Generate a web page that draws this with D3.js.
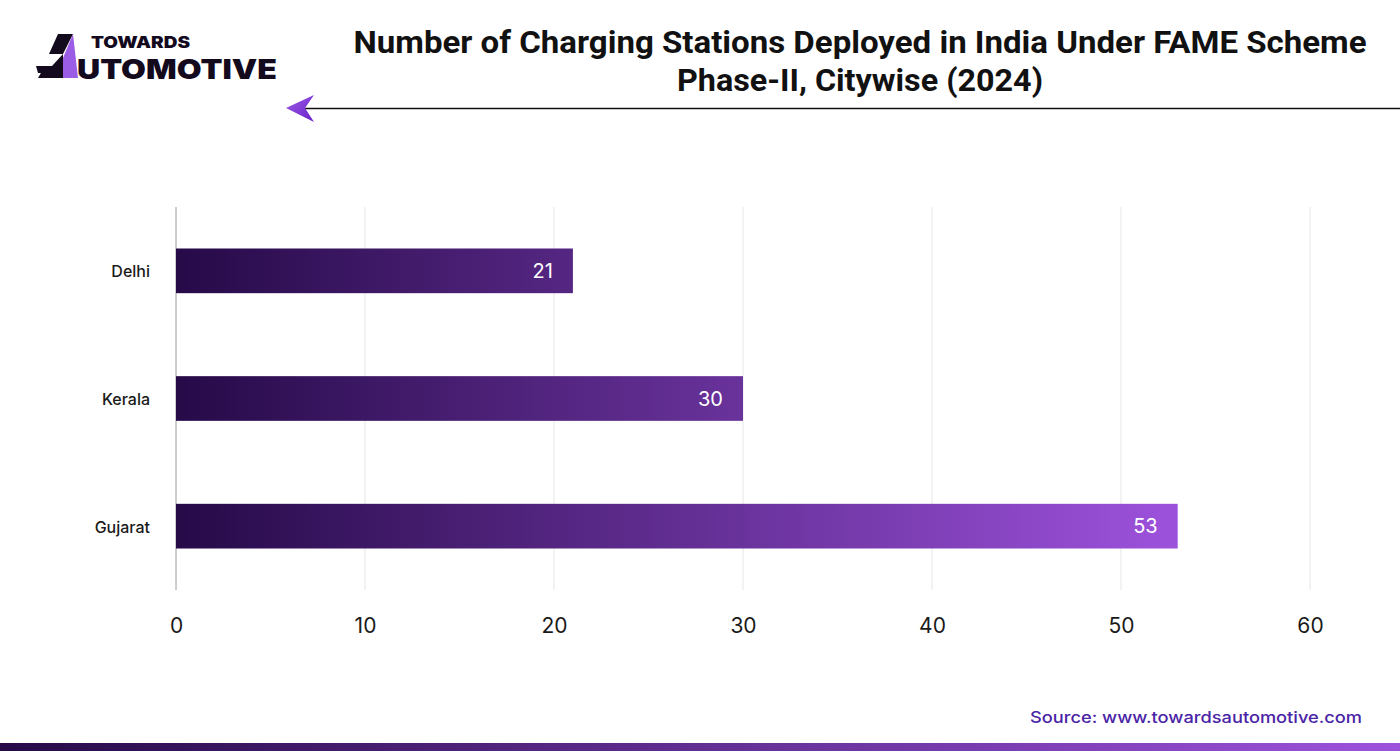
<!DOCTYPE html>
<html><head><meta charset="utf-8">
<script src="https://cdn.jsdelivr.net/npm/d3@7"></script>
<style>html,body{margin:0;padding:0;background:#fff;}svg{display:block;}</style>
</head><body>
<svg id="c" width="1400" height="751"></svg>
<script>
const categories = ["Delhi", "Kerala", "Gujarat"];
const values = [21, 30, 53];
const xTicks = [0, 10, 20, 30, 40, 50, 60];
const titleLines = ["Number of Charging Stations Deployed in India Under FAME Scheme", "Phase-II, Citywise (2024)"];
const sourceText = "Source: www.towardsautomotive.com";

const svg = d3.select("#c");
const W = 1400, H = 751;
const m = {left: 176, right: 90, top: 207, bottom: 161};
const x = d3.scaleLinear().domain([0, 60]).range([m.left, W - m.right]);
const y = d3.scaleBand().domain(categories).range([m.top, H - m.bottom]).paddingInner(0.65).paddingOuter(0.325);

const defs = svg.append("defs");
const g1 = defs.append("linearGradient").attr("id", "barGrad").attr("gradientUnits", "userSpaceOnUse")
  .attr("x1", x(0)).attr("x2", x(53)).attr("y1", 0).attr("y2", 0);
g1.append("stop").attr("offset", "0%").attr("stop-color", "#260a48");
g1.append("stop").attr("offset", "100%").attr("stop-color", "#9d52dc");
const g2 = defs.append("linearGradient").attr("id", "footGrad").attr("x1", "0%").attr("x2", "100%");
g2.append("stop").attr("offset", "0%").attr("stop-color", "#260a48");
g2.append("stop").attr("offset", "100%").attr("stop-color", "#9d52dc");
const g3 = defs.append("linearGradient").attr("id", "arrGrad").attr("x1", "0%").attr("x2", "100%").attr("y1","0%").attr("y2","100%");
g3.append("stop").attr("offset", "0%").attr("stop-color", "#9b5de5");
g3.append("stop").attr("offset", "100%").attr("stop-color", "#6a1fc9");

// gridlines
svg.append("g").selectAll("line").data(xTicks.filter(d => d > 0)).join("line")
  .attr("x1", d => x(d)).attr("x2", d => x(d)).attr("y1", m.top).attr("y2", H - m.bottom)
  .attr("stroke", "#e6e6e6").attr("stroke-width", 1);

// x axis labels
const xAxis = d3.axisBottom(x).tickValues(xTicks).tickSize(0).tickPadding(0);
const xg = svg.append("g").attr("transform", `translate(0,${H - m.bottom + 28})`).call(xAxis);
xg.select(".domain").remove();
xg.selectAll("text").attr("font-family", "Inter, sans-serif").attr("font-size", 21).attr("fill", "#1a1a1a").attr("dy", "0.71em");

// y axis line
svg.append("line").attr("x1", x(0)).attr("x2", x(0)).attr("y1", m.top).attr("y2", H - m.bottom)
  .attr("stroke", "#9a9a9a").attr("stroke-width", 1);

// y labels
const yAxis = d3.axisLeft(y).tickSize(0).tickPadding(26);
const yg = svg.append("g").attr("transform", `translate(${x(0)},1.5)`).call(yAxis);
yg.select(".domain").remove();
yg.selectAll("text").attr("font-family", "Inter, sans-serif").attr("font-size", 16).attr("font-weight", 500).attr("fill", "#1a1a1a");

// bars
svg.append("g").selectAll("rect").data(categories).join("rect")
  .attr("x", x(0)).attr("y", d => y(d)).attr("height", y.bandwidth())
  .attr("width", (d, i) => x(values[i]) - x(0)).attr("fill", "url(#barGrad)");

svg.append("g").selectAll("text").data(categories).join("text")
  .attr("x", (d, i) => x(values[i]) - 20).attr("y", d => y(d) + y.bandwidth() / 2)
  .attr("dy", "0.36em").attr("text-anchor", "end")
  .attr("font-family", "Inter, sans-serif").attr("font-size", 20).attr("fill", "#fff")
  .text((d, i) => values[i]);

// title
const titleLens = [1013, 366];
svg.append("g").selectAll("text").data(titleLines).join("text")
  .attr("x", 860).attr("y", (d, i) => 53 + i * 38).attr("text-anchor", "middle")
  .attr("font-family", "Roboto, sans-serif").attr("font-weight", 700).attr("font-size", 31)
  .attr("textLength", (d, i) => titleLens[i]).attr("lengthAdjust", "spacingAndGlyphs")
  .attr("fill", "#111").text(d => d);

// header rule + arrow
svg.append("line").attr("x1", 305).attr("x2", W).attr("y1", 108.5).attr("y2", 108.5).attr("stroke", "#111").attr("stroke-width", 1.5);
svg.append("path").attr("d", "M286,108 L314,95 L305,108 L314,122 Z").attr("fill", "url(#arrGrad)");

// logo
const logo = svg.append("g");
logo.append("path").attr("d", "M58,34 L73,34 L63,54 L49,54 Z").attr("fill", "#140a1e");
logo.append("path").attr("d", "M73,34 L78,78 L63,78 L63,58 Z").attr("fill", "#9b5de5");
logo.append("path").attr("d", "M63,54 L63,78 L38,78 L45,66 L52,66 Z").attr("fill", "#140a1e");
logo.append("path").attr("d", "M36,66 L62,66 L59,73 L38,73 Z").attr("fill", "#140a1e");
logo.append("text").attr("x", 91).attr("y", 48).attr("font-family", "Inter, sans-serif").attr("font-weight", 900)
  .attr("font-size", 16).attr("textLength", 99).attr("lengthAdjust", "spacingAndGlyphs").attr("fill", "#140a1e").text("TOWARDS");
logo.append("text").attr("x", 77).attr("y", 79).attr("font-family", "Inter, sans-serif").attr("font-weight", 900)
  .attr("font-size", 27).attr("fill", "#140a1e").attr("textLength", 200).attr("lengthAdjust", "spacingAndGlyphs").text("UTOMOTIVE");

// source
svg.append("text").attr("x", 1362).attr("y", 723).attr("text-anchor", "end")
  .attr("font-family", "Inter, sans-serif").attr("font-weight", 500).attr("font-size", 16)
  .attr("textLength", 332).attr("lengthAdjust", "spacingAndGlyphs").attr("fill", "#4a23a6").text(sourceText);

// footer bar
svg.append("rect").attr("x", 0).attr("y", 743).attr("width", W).attr("height", 8).attr("fill", "url(#footGrad)");
</script>
</body></html>
